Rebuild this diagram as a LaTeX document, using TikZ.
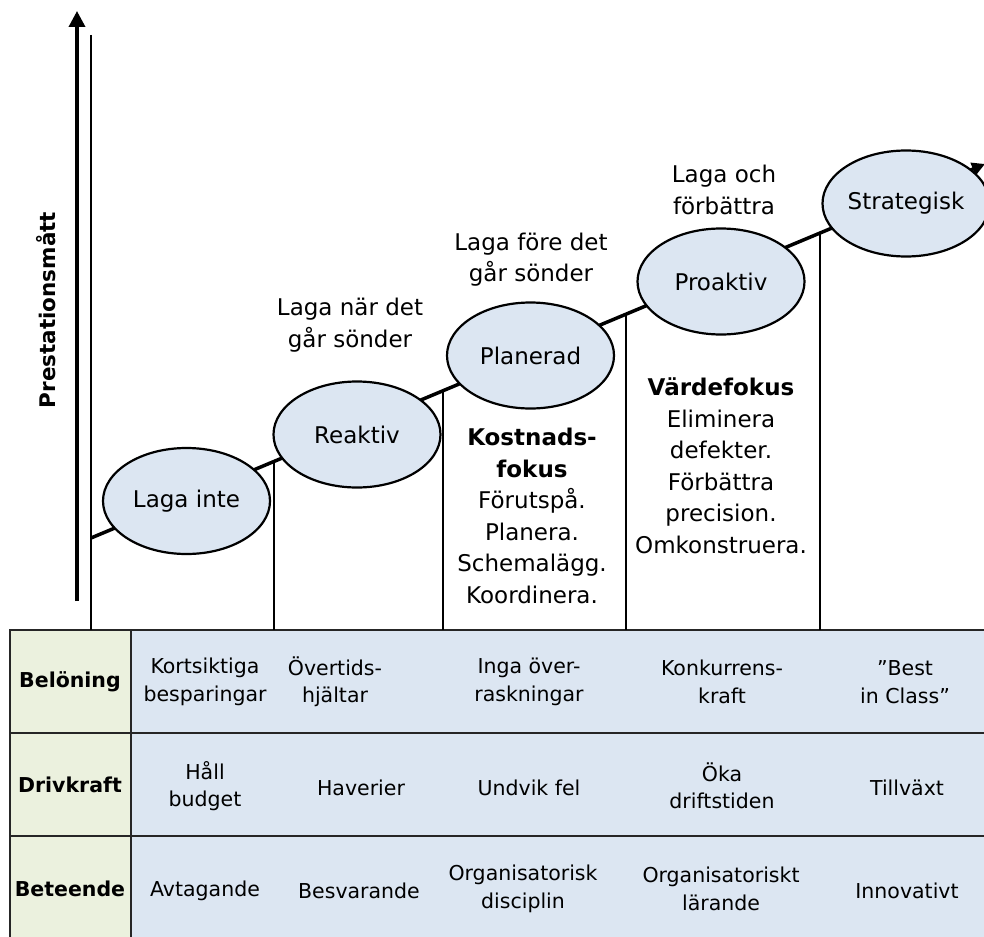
\documentclass[tikz,border=0pt]{standalone}
\usepackage{fontspec}
\setmainfont{DejaVu Sans}
\usetikzlibrary{arrows.meta,shapes.geometric}
\definecolor{cellblue}{HTML}{DCE6F2}
\definecolor{cellgreen}{HTML}{EBF1DE}
\begin{document}
\begin{tikzpicture}[x=1pt,y=-1pt,
  stage/.style={ellipse, draw, line width=2.2pt, fill=cellblue,
    minimum width=167pt, minimum height=106pt, inner sep=0pt,
    font=\fontsize{23}{31}\selectfont},
  note/.style={align=center, inner sep=0pt, font=\fontsize{23}{31.5}\selectfont},
  cell/.style={align=center, inner sep=0pt, font=\fontsize{20.5}{27.5}\selectfont},
  head/.style={inner sep=0pt, font=\fontsize{20.5}{27}\selectfont\bfseries},
  rule/.style={line width=2.2pt},
  grid/.style={line width=2.2pt, draw=black!85}]
\useasboundingbox (0,0) rectangle (984,936);
\clip (0,0) rectangle (984,936);

% table background
\fill[cellgreen] (10,630) rectangle (131,945);
\fill[cellblue] (131,630) rectangle (995,945);
\draw[grid] (10,945) -- (10,630) -- (995,630);
\draw[grid] (10,733) -- (995,733);
\draw[grid] (10,836) -- (995,836);
\draw[grid] (131,630) -- (131,945);

% axes
\coordinate (ybase) at (77,601);
\coordinate (ytop) at (77,11);
\draw[line width=3.5pt, -{Triangle[length=16pt,width=16pt]}] (ybase) -- (ytop);
\coordinate (vtop) at (91,35);
\coordinate (vbot) at (91,630);
\draw[rule] (vtop) -- (vbot);
\node[inner sep=0pt, rotate=90, font=\fontsize{21.5}{26}\selectfont\bfseries] (ylab) at (46,310) {Prestationsmått};

% rising line
\coordinate (s0) at (91,538);
\coordinate (s5) at (985,164);
\draw[line width=3.5pt, -{Triangle[length=13pt,width=13pt]}] (s0) -- (s5);

% separators
\foreach \n/\x/\y in {1/274/462, 2/443/391, 3/626/315, 4/820/234} {
  \coordinate (t\n) at (\x,\y);
  \coordinate (b\n) at (\x,630);
  \draw[rule] (t\n) -- (b\n);
}

% stages
\node[stage] (laga) at (186.5,501) {Laga inte};
\node[stage] (reaktiv) at (357,434.5) {Reaktiv};
\node[stage] (planerad) at (530.5,355.5) {Planerad};
\node[stage] (proaktiv) at (721,281.5) {Proaktiv};
\node[stage] (strategisk) at (906,203.5) {Strategisk};

% notes
\node[note] (n1) at (350,325) {Laga när det\\går sönder};
\node[note] (n2) at (531,259.5) {Laga före det\\går sönder};
\node[note] (n3) at (724,190) {Laga och\\förbättra};
\node[note] (kost) at (532,516) {\textbf{Kostnads-}\\\textbf{fokus}\\Förutspå.\\Planera.\\Schemalägg.\\Koordinera.};
\node[note] (varde) at (721,466) {\textbf{Värdefokus}\\Eliminera\\defekter.\\Förbättra\\precision.\\Omkonstruera.};

% row headers
\node[head] (h1) at (70,682) {Belöning};
\node[head] (h2) at (70,785) {Drivkraft};
\node[head] (h3) at (70,889) {Beteende};

% row 1
\node[cell] (r1c1) at (205,682) {Kortsiktiga\\besparingar};
\node[cell] (r1c2) at (335,682) {Övertids-\\hjältar};
\node[cell] (r1c3) at (529,682) {Inga över-\\raskningar};
\node[cell] (r1c4) at (722,682) {Konkurrens-\\kraft};
\node[cell] (r1c5) at (905,682) {”Best\\in Class”};
% row 2
\node[cell] (r2c1) at (205,786) {Håll\\budget};
\node[cell] (r2c2) at (361,788) {Haverier};
\node[cell] (r2c3) at (529,788) {Undvik fel};
\node[cell] (r2c4) at (722,786) {Öka\\driftstiden};
\node[cell] (r2c5) at (907,788) {Tillväxt};
% row 3
\node[cell] (r3c1) at (205,891) {Avtagande};
\node[cell] (r3c2) at (359,891) {Besvarande};
\node[cell] (r3c3) at (523,889) {Organisatorisk\\disciplin};
\node[cell] (r3c4) at (721,889) {Organisatoriskt\\lärande};
\node[cell] (r3c5) at (907,891) {Innovativt};
\end{tikzpicture}
\end{document}
